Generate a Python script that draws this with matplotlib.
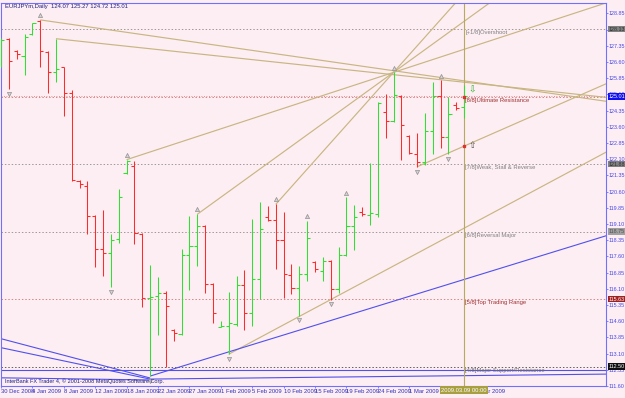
import matplotlib
matplotlib.use("Agg")
import matplotlib.pyplot as plt
import matplotlib.transforms as mtrans
import numpy as np

plt.rcParams['font.family'] = ['Liberation Sans Narrow', 'Liberation Sans', 'DejaVu Sans']

# ---------------- data ----------------
symbol_title = "EURJPYm,Daily  124.07 125.27 124.72 125.01"
copyright_txt = "InterBank FX Trader 4, \u00a9 2001-2008 MetaQuotes Software Corp."

opens = [126.71, 127.68, 127.13, 126.90, 127.91, 128.51, 127.08, 126.12, 126.35, 125.15,
         121.11, 120.88, 119.46, 117.94, 117.76, 118.40, 121.48, 121.80, 118.63, 115.69,
         115.78, 115.92, 114.18, 113.99, 117.67, 118.08, 119.00, 116.33, 114.31, 114.36,
         114.45, 116.29, 115.00, 116.56, 119.41, 119.27, 118.36, 116.75, 116.15, 116.79,
         117.34, 116.93, 117.39, 116.10, 117.67, 119.00, 119.64, 119.50, 119.55, 124.28,
         123.87, 125.02, 123.18, 122.35, 121.98, 123.41, 125.02, 123.13, 124.60, 124.51]
highs = [127.73, 127.73, 127.17, 127.91, 128.41, 128.55, 127.13, 127.68, 126.39, 125.29,
         121.16, 121.11, 119.50, 119.73, 118.63, 120.70, 122.08, 122.03, 118.68, 117.21,
         116.66, 116.01, 114.22, 117.94, 119.46, 119.55, 119.04, 116.38, 114.63, 115.97,
         116.70, 116.98, 119.32, 120.10, 119.92, 120.01, 119.64, 117.25, 117.16, 119.23,
         117.39, 117.57, 117.44, 118.03, 120.33, 119.96, 119.87, 121.94, 124.74, 125.11,
         126.12, 125.06, 123.22, 123.32, 124.23, 125.66, 125.75, 124.97, 124.74, 125.52]
lows = [126.35, 125.34, 126.72, 125.98, 127.86, 126.35, 125.15, 125.66, 124.10, 121.11,
        120.79, 118.63, 117.11, 116.70, 116.20, 118.22, 121.43, 118.17, 115.28, 112.06,
        113.95, 112.48, 113.67, 113.95, 116.06, 117.16, 115.92, 114.54, 114.31, 113.07,
        114.40, 114.18, 114.36, 115.64, 119.23, 117.02, 115.69, 115.87, 114.86, 116.47,
        116.89, 116.47, 115.60, 115.92, 117.62, 117.90, 119.46, 119.04, 119.41, 123.09,
        123.82, 122.08, 122.35, 121.75, 121.85, 122.35, 122.63, 122.35, 124.37, 124.01]
closes = [127.63, 126.67, 126.95, 127.77, 128.39, 127.13, 126.12, 126.26, 125.15, 121.16,
          120.97, 119.46, 117.94, 117.76, 118.36, 120.33, 122.03, 118.68, 115.69, 115.74,
          115.92, 115.32, 114.04, 117.67, 118.08, 119.00, 116.33, 115.00, 114.40, 114.50,
          116.29, 115.00, 116.56, 118.86, 119.27, 118.36, 116.79, 116.15, 116.79, 118.45,
          117.02, 117.39, 116.10, 117.67, 119.00, 119.41, 119.55, 119.60, 124.69, 123.87,
          125.06, 123.68, 122.40, 121.98, 123.41, 125.02, 123.13, 124.19, 124.46, 125.01]

date_idx = [0, 4, 8, 12, 16, 20, 24, 28, 32, 36, 40, 44, 48, 52, 56, 60]
date_labels = ["30 Dec 2008", "4 Jan 2009", "8 Jan 2009", "12 Jan 2009", "18 Jan 2009",
               "22 Jan 2009", "27 Jan 2009", "1 Feb 2009", "5 Feb 2009", "10 Feb 2009",
               "15 Feb 2009", "19 Feb 2009", "24 Feb 2009", "1 Mar 2009", "5 Mar 2009",
               "10 Mar 2009"]
current_idx = 59
current_label = "2009.03.09 00:00"

price_ticks = [128.85, 128.10, 127.35, 126.60, 125.85, 125.10, 124.35, 123.60, 122.85,
               122.10, 121.35, 120.60, 119.85, 119.10, 118.35, 117.60, 116.85, 116.10,
               115.35, 114.60, 113.85, 113.10, 112.35, 111.60]

murrey_levels = [128.125, 125.0, 121.875, 118.75, 115.625, 112.5]
murrey_names = ["[+1/8]Overshoot", "[8/8]Ultimate Resistance", "[7/8]Weak, Stall & Reverse",
                "[6/8]Reversal Major", "[5/8]Top Trading Range", "[4/8]Major Support/Resistance"]
murrey_line_colors = ["#a09898", "#d08888", "#a09898", "#a09898", "#d08888", "#606060"]
murrey_text_colors = ["#808080", "#a03030", "#808080", "#808080", "#a03030", "#707070"]
murrey_box_text = ["128.13", None, "121.88", "118.75", "115.63", "112.50"]
murrey_box_bg = ["#808080", None, "#808080", "#a0a0a0", "#a02020", "#101010"]
murrey_box_fg = ["#303030", None, "#303030", "#505050", "#ffffff", "#ffffff"]
bid_price = 125.01

fractal_up = [5, 16, 25, 35, 39, 44, 50, 56]
fractal_dn = [1, 14, 19, 29, 38, 42, 53, 57]

# trendlines: (start index, start price, through index, through price, end index)
tan_lines = [
    (5, 128.55, 76.94, 124.79, 80),
    (7, 127.68, 76.94, 124.97, 80),
    (16, 122.08, 50, 126.12, 80),
    (25, 119.55, 50, 126.12, 80),
    (35, 120.01, 50, 126.12, 80),
    (29, 113.07, 42, 115.60, 80),
    (53, 121.75, 76.94, 125.57, 80),
]
blue_lines = [
    (19, 112.06, 76.94, 118.54, 80),
    (-0.2, 113.81, 19, 111.97, 19),
    (-0.2, 113.39, 19, 111.92, 19),
    (-0.2, 112.34, 76.94, 112.34, 80),
    (19, 111.92, 76.94, 112.15, 80),
    (-0.2, 111.98, 19, 111.88, 19),
]

# ---------------- figure ----------------
BG = "#fdeef3"
FRAME = "#7070ff"
W, H = 625, 398
fig = plt.figure(figsize=(W / 100, H / 100), dpi=100, facecolor=BG)
left_px, right_px, top_px, bot_px = 1, 606, 3, 386
ax = fig.add_axes([left_px / W, (H - bot_px) / H, (right_px - left_px) / W, (bot_px - top_px) / H])
ax.set_facecolor(BG)

bar_px = 7.85
ax.set_xlim(0, (right_px - left_px) / bar_px)
ax.set_ylim(111.74, 129.333)

for s in ax.spines.values():
    s.set_color(FRAME)
    s.set_linewidth(0.8)

FS = 4.2
YFS = 3.9
lw = 0.75
# murrey lines
for lev, lc in zip(murrey_levels, murrey_line_colors):
    ax.axhline(lev, color=lc, lw=0.7, ls=(0, (1.5, 2)), zorder=1)

# trendlines
def ray(ax, a, c, lwid):
    x0, y0, x1, y1, xe = a
    slope = (y1 - y0) / (x1 - x0)
    ax.plot([x0, xe], [y0, y0 + slope * (xe - x0)], color=c, lw=lwid, zorder=2,
            solid_capstyle="butt")

for t in tan_lines:
    ray(ax, t, "#c8b682", 0.85)
for b in blue_lines:
    ray(ax, b, "#5050ee", 0.8)

# current-time vertical line
ax.axvline(current_idx, color="#b8a860", lw=0.8, zorder=2)

# bars
idx = np.arange(len(opens))
o = np.array(opens); h = np.array(highs); l = np.array(lows); c = np.array(closes)
up = c >= o
cols = np.where(up, "#30e030", "#ff2a2a")
ax.vlines(idx, l, h, colors=cols, lw=lw, zorder=4)
ax.hlines(o, idx - 0.4, idx, colors=cols, lw=lw, zorder=4)
ax.hlines(c, idx, idx + 0.4, colors=cols, lw=lw, zorder=4)

# fractals
off_up = mtrans.offset_copy(ax.transData, fig=fig, x=0, y=3.5, units="points")
off_dn = mtrans.offset_copy(ax.transData, fig=fig, x=0, y=-3.5, units="points")
ax.plot(fractal_up, [highs[i] for i in fractal_up], ls="none", marker="^", ms=3,
        mfc="#d8d0d4", mec="#909090", mew=0.5, transform=off_up, zorder=5)
ax.plot(fractal_dn, [lows[i] for i in fractal_dn], ls="none", marker="v", ms=3,
        mfc="#d8d0d4", mec="#909090", mew=0.5, transform=off_dn, zorder=5)

# markers at current bar
ax.plot([current_idx, current_idx], [125.0, 122.72], ls="none", marker="s", ms=2,
        color="#e03030", zorder=6)
ax.text(current_idx + 1.05, 125.3, "\u21e9", fontsize=6.5, color="#20b020", ha="center",
        va="center", zorder=6, family="DejaVu Sans")
ax.text(current_idx + 1.05, 122.72, "\u21e7", fontsize=6.5, color="#505050", ha="center",
        va="center", zorder=6, family="DejaVu Sans")

# murrey labels
for lev, name, tc in zip(murrey_levels, murrey_names, murrey_text_colors):
    ax.text(current_idx + 0.15, lev - 0.05, name, fontsize=FS, color=tc, ha="left", va="top",
            zorder=6)

# right axis
ax.yaxis.tick_right()
ax.set_yticks(price_ticks)
ax.set_yticklabels([f"{p:.2f}" for p in price_ticks])
ax.tick_params(axis="y", length=1.2, width=0.6, color=FRAME, labelsize=YFS,
               labelcolor="#4848e8", pad=0.6)

# right price boxes
btr = mtrans.blended_transform_factory(ax.transAxes, ax.transData)
for lev, t, bg, fg in zip(murrey_levels, murrey_box_text, murrey_box_bg, murrey_box_fg):
    if t is None:
        continue
    ax.text(1.0045, lev, t, transform=btr, fontsize=YFS, color=fg, ha="left", va="center",
            bbox=dict(boxstyle="square,pad=0.12", fc=bg, ec="none"), zorder=7, clip_on=False)
ax.text(1.0045, bid_price, f"{bid_price:.2f}", transform=btr, fontsize=YFS, color="#ffffff",
        ha="left", va="center", bbox=dict(boxstyle="square,pad=0.12", fc="#1010f0", ec="none"),
        zorder=7, clip_on=False)
ax.axhline(bid_price, color="#e07070", lw=0.6, ls=(0, (1, 2)), zorder=1)

# bottom axis
ax.set_xticks(date_idx)
ax.set_xticklabels(date_labels, ha="left")
ax.tick_params(axis="x", length=1.5, width=0.6, color=FRAME, labelsize=FS,
               labelcolor="#3030c0", pad=1.0)
ax.text(current_idx, -0.004, current_label, transform=mtrans.blended_transform_factory(
    ax.transData, ax.transAxes), fontsize=FS, color="#ffffff", ha="center", va="top",
    bbox=dict(boxstyle="square,pad=0.2", fc="#a8a040", ec="none"), zorder=8, clip_on=False)

# title & copyright
ax.text(0.006, 0.997, symbol_title, transform=ax.transAxes, fontsize=FS, color="#202080",
        ha="left", va="top", zorder=8)
ax.text(0.006, 0.004, copyright_txt, transform=ax.transAxes, fontsize=4.0, color="#202080",
        ha="left", va="bottom", zorder=8)

fig.savefig("out.png", dpi=100, facecolor=BG)
